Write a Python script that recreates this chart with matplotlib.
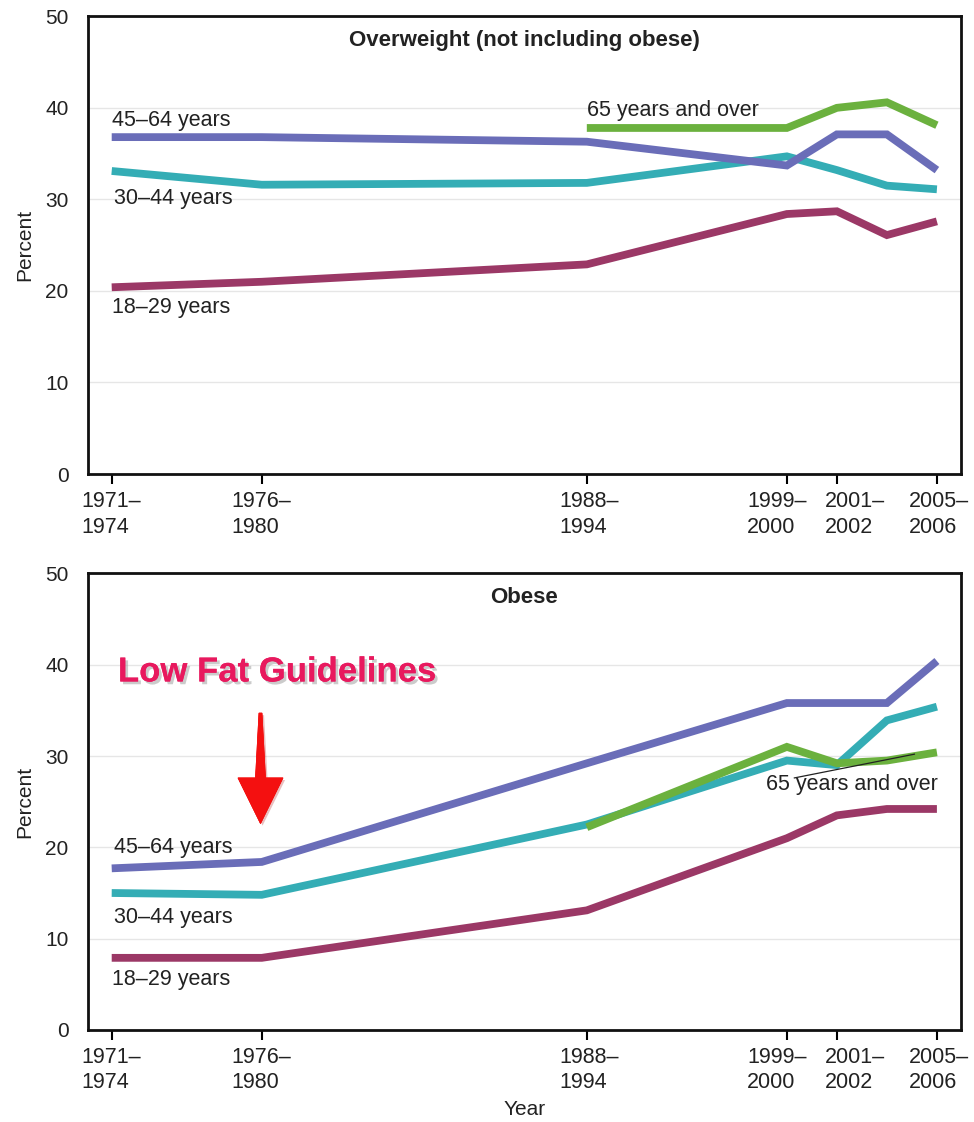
import matplotlib
matplotlib.use("Agg")
import matplotlib.pyplot as plt
from matplotlib.patches import Polygon
import matplotlib.patheffects as pe

plt.rcParams['font.family'] = ['Liberation Sans', 'DejaVu Sans']

# Survey periods (plotted at approximate period centres)
periods = ["1971–\n1974", "1976–\n1980", "1988–\n1994", "1999–\n2000",
           "2001–\n2002", "2003–\n2004", "2005–\n2006"]
period_x = [1972.5, 1978.5, 1991.5, 1999.5, 2001.5, 2003.5, 2005.5]
labeled = [0, 1, 2, 3, 4, 6]
label_shift = [0, 0, 2, -10, 18, 0, 2]  # pixel nudges of the tick labels

# Overweight (not including obese), percent
ow_18_29 = [20.4, 21.0, 22.9, 28.4, 28.7, 26.1, 27.6]
ow_30_44 = [33.1, 31.6, 31.8, 34.7, 33.2, 31.5, 31.1]
ow_45_64 = [36.8, 36.8, 36.3, 33.7, 37.1, 37.1, 33.2]
ow_65 = [None, None, 37.8, 37.8, 40.0, 40.6, 38.1]

# Obese, percent
ob_18_29 = [7.9, 7.9, 13.1, 21.0, 23.5, 24.2, 24.2]
ob_30_44 = [15.0, 14.8, 22.5, 29.5, 29.0, 33.9, 35.4]
ob_45_64 = [17.7, 18.4, 29.2, 35.8, 35.8, 35.8, 40.4]
ob_65 = [None, None, 22.2, 31.0, 29.2, 29.5, 30.4]

c_1829 = "#9b3866"
c_3044 = "#34adb5"
c_4564 = "#6a6db8"
c_65 = "#6bb13e"

fig = plt.figure(figsize=(9.74, 11.22), dpi=100)
ax1 = fig.add_axes([0.0903, 0.5775, 0.896, 0.408])
ax2 = fig.add_axes([0.0903, 0.082, 0.896, 0.407])

lw = 5.6
FS = 15.5
TXT = '#222222'


def series(vals):
    xs = [x for x, v in zip(period_x, vals) if v is not None]
    ys = [v for v in vals if v is not None]
    return xs, ys


def style(ax, title):
    ax.set_xlim(1971.55, 2006.45)
    ax.set_ylim(0, 50)
    ax.set_yticks([0, 10, 20, 30, 40, 50])
    ax.tick_params(axis='y', length=0, labelsize=15, pad=14, colors=TXT)
    ax.set_xticks([period_x[i] for i in labeled])
    ax.set_xticklabels([])
    ax.tick_params(axis='x', length=7, width=1.5, direction='out')
    for i in labeled:
        ax.annotate(periods[i], xy=(period_x[i], 0),
                    xycoords=('data', 'axes fraction'),
                    xytext=(label_shift[i] * 0.72, -12),
                    textcoords='offset points', ha='center', va='top',
                    multialignment='left', fontsize=FS, color=TXT,
                    linespacing=1.3)
    for y in [10, 20, 30, 40]:
        ax.axhline(y, color='#e6e6e6', lw=1, zorder=0)
    for s in ax.spines.values():
        s.set_linewidth(2)
        s.set_color('#111111')
    ax.set_ylabel("Percent", fontsize=15, color=TXT, labelpad=8)
    ax.text(1989.0, 47.4, title, ha='center', va='center', fontsize=16,
            fontweight='bold', color=TXT)


for ax, data in [(ax1, [ow_18_29, ow_30_44, ow_45_64, ow_65]),
                 (ax2, [ob_18_29, ob_30_44, ob_45_64, ob_65])]:
    for vals, c in zip(data, [c_1829, c_3044, c_4564, c_65]):
        xs, ys = series(vals)
        ax.plot(xs, ys, color=c, lw=lw, solid_capstyle='butt',
                solid_joinstyle='miter', zorder=3)

style(ax1, "Overweight (not including obese)")
style(ax2, "Obese")

tk = dict(fontsize=FS, color=TXT, ha='left', va='baseline')
ax1.text(1972.5, 38.0, "45–64 years", **tk)
ax1.text(1972.6, 29.5, "30–44 years", **tk)
ax1.text(1972.5, 17.6, "18–29 years", **tk)
ax1.text(1991.5, 39.1, "65 years and over", **tk)

ax2.text(1972.6, 19.4, "45–64 years", **tk)
ax2.text(1972.6, 11.7, "30–44 years", **tk)
ax2.text(1972.5, 4.9, "18–29 years", **tk)
ax2.text(1998.65, 26.3, "65 years and over", **tk)
ax2.plot([1999.8, 2004.6], [27.6, 30.2], color=TXT, lw=0.9, zorder=4)

ax2.text(1972.75, 39.2, "Low Fat Guidelines", ha='left', va='center',
         fontsize=25, fontweight='bold', color='#e8195e',
         path_effects=[pe.withSimplePatchShadow(offset=(2, -2),
                                                shadow_rgbFace='#999999',
                                                alpha=0.5),
                       pe.Normal()])
ax_c = 1978.45
arrow = Polygon([(ax_c - 0.06, 34.7), (ax_c + 0.06, 34.7),
                 (ax_c + 0.2, 27.6), (ax_c + 0.9, 27.6),
                 (ax_c, 22.6), (ax_c - 0.9, 27.6), (ax_c - 0.2, 27.6)],
                closed=True, facecolor='#f41010', edgecolor='#f41010',
                lw=0.5, zorder=5,
                path_effects=[pe.withSimplePatchShadow(offset=(1.5, -1.5),
                                                       shadow_rgbFace='#aa0000',
                                                       alpha=0.25),
                              pe.Normal()])
ax2.add_patch(arrow)

ax2.set_xlabel("Year", fontsize=15, color=TXT, labelpad=40)

fig.savefig("out.png", dpi=100, facecolor='white')
